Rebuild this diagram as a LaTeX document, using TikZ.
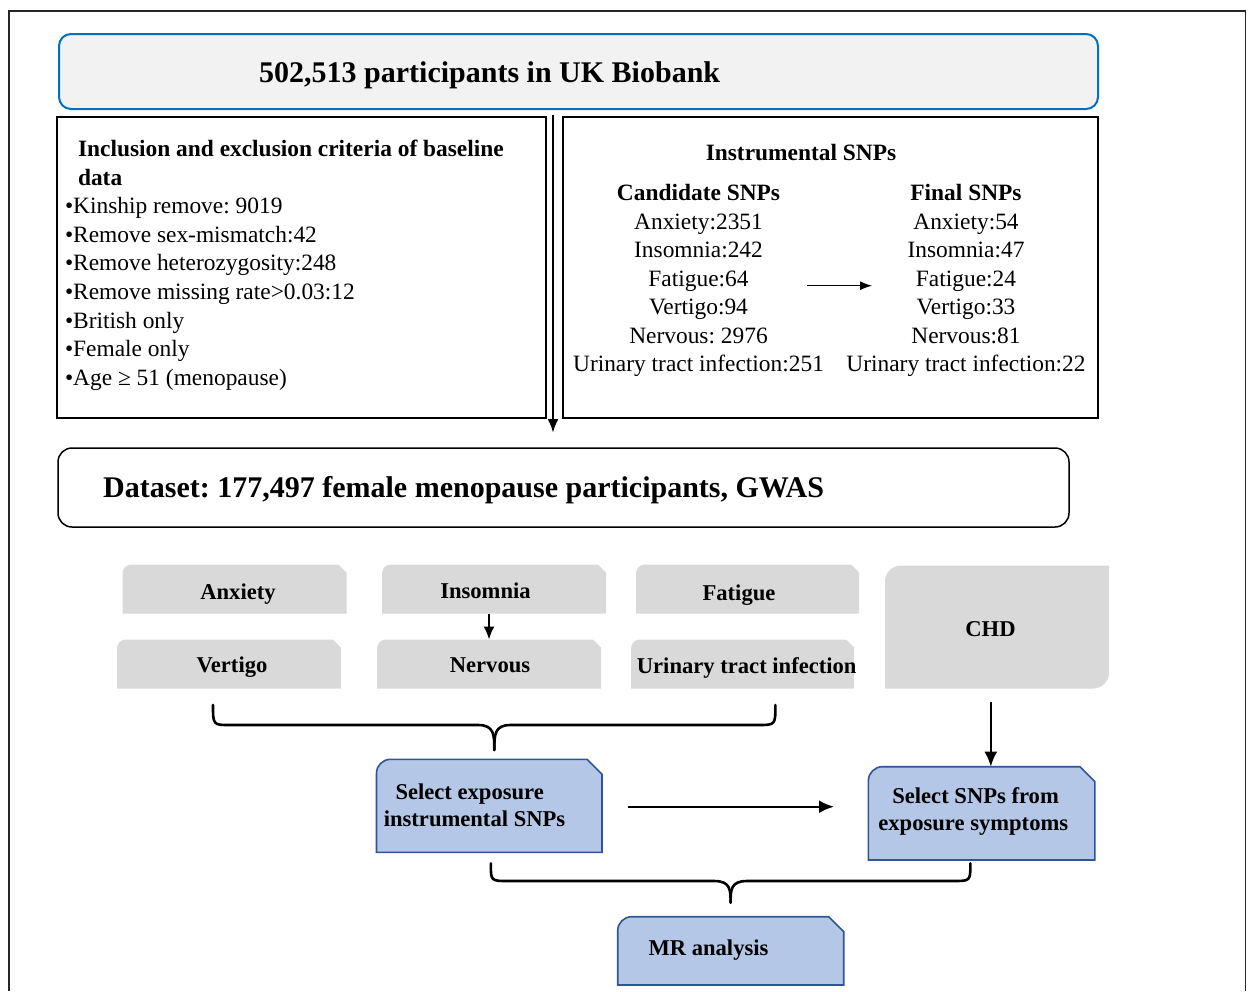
\documentclass[tikz,border=0pt]{standalone}
\usepackage{fontspec}
\setmainfont{Liberation Serif}
\frenchspacing
\usetikzlibrary{arrows.meta,backgrounds}
\definecolor{topblue}{RGB}{0,112,192}
\definecolor{topfill}{RGB}{242,242,242}
\definecolor{grayfill}{RGB}{217,217,217}
\definecolor{bluefill}{RGB}{180,199,231}
\definecolor{bluedraw}{RGB}{47,85,151}
\newcommand{\bodyfont}{\fontsize{23.4}{28.5}\selectfont}
\newcommand{\labfont}{\bfseries\fontsize{22.6}{27.5}\selectfont}
\newcommand{\bigfont}{\bfseries\fontsize{30}{34}\selectfont}
% snipped box: #1 node name, #2 style, #3 top-left radius, #4 chamfer
\newcommand{\snipbox}[4]{%
  \path[#2] (#1.south west) -- ([yshift=-#3]#1.north west)
    arc[start angle=180,end angle=90,radius=#3]
    -- ([xshift=-#4]#1.north east) -- ([yshift=-#4]#1.north east)
    -- (#1.south east) -- cycle;}
\tikzset{
  area/.style={inner sep=0pt, outer sep=0pt, minimum width=#1},
  plainbox/.style={draw=black, line width=1.8pt, inner sep=0pt},
  txt/.style={inner sep=0pt, outer sep=0pt, anchor=base, font=\bodyfont},
  txtl/.style={inner sep=0pt, outer sep=0pt, anchor=base west, font=\bodyfont},
  lab/.style={inner sep=0pt, outer sep=0pt, anchor=base, font=\labfont},
  labl/.style={inner sep=0pt, outer sep=0pt, anchor=base west, font=\labfont},
  grayshape/.style={fill=grayfill},
  blueshape/.style={fill=bluefill, draw=bluedraw, line width=1.6pt},
  thinarr/.style={-{Latex[length=12pt,width=9pt]}, line width=1pt},
  bigarr/.style={-{Latex[length=15pt,width=13pt]}, line width=2.4pt},
  brace/.style={line width=2.6pt, line cap=round},
}
\begin{document}
\begin{tikzpicture}[x=1pt,y=1pt]
\useasboundingbox (0,0) rectangle (1249,-991);
% outer frame
\draw[line width=1.8pt, black!85] (9,-991) -- (9,-11) -- (1245.5,-11) -- (1245.5,-991);

% top box
\node[draw=topblue, fill=topfill, line width=2pt, rounded corners=12pt,
      minimum width=1039pt, minimum height=75pt, inner sep=0pt] (top) at (578.5,-71.5) {};
\node[inner sep=0pt, anchor=base west, font=\bigfont] (toptxt) at (259,-82) {502,513 participants in UK Biobank};

% left criteria box
\node[plainbox, minimum width=489pt, minimum height=301pt] (crit) at (301.5,-267.5) {};
\node[labl, font=\bfseries\bodyfont] (h1) at (78,-156.5) {Inclusion and exclusion criteria of baseline};
\node[labl, font=\bfseries\bodyfont] (h2) at (78,-185.1) {data};
\node[txtl] (b1) at (65,-213.7) {•Kinship remove: 9019};
\node[txtl] (b2) at (65,-242.3) {•Remove sex-mismatch:42};
\node[txtl] (b3) at (65,-270.9) {•Remove heterozygosity:248};
\node[txtl] (b4) at (65,-299.5) {•Remove missing rate>0.03:12};
\node[txtl] (b5) at (65,-328.1) {•British only};
\node[txtl] (b6) at (65,-356.7) {•Female only};
\node[txtl] (b7) at (65,-385.3) {•Age ≥ 51 (menopause)};

% right SNP box
\node[plainbox, minimum width=535pt, minimum height=301pt] (snp) at (830.5,-267.5) {};
\node[lab, font=\bfseries\bodyfont] (isnp) at (801,-160) {Instrumental SNPs};
\node[lab, font=\bfseries\bodyfont] (cand) at (698.5,-200.7) {Candidate SNPs};
\node[lab, font=\bfseries\bodyfont] (fin) at (966,-200.7) {Final SNPs};
\node[txt] (c1) at (698.5,-229.2) {Anxiety:2351};
\node[txt] (c2) at (698.5,-257.7) {Insomnia:242};
\node[txt] (c3) at (698.5,-286.2) {Fatigue:64};
\node[txt] (c4) at (698.5,-314.7) {Vertigo:94};
\node[txt] (c5) at (698.5,-343.2) {Nervous: 2976};
\node[txt] (c6) at (698.5,-371.7) {Urinary tract infection:251};
\node[txt] (f1) at (966,-229.2) {Anxiety:54};
\node[txt] (f2) at (966,-257.7) {Insomnia:47};
\node[txt] (f3) at (966,-286.2) {Fatigue:24};
\node[txt] (f4) at (966,-314.7) {Vertigo:33};
\node[txt] (f5) at (966,-343.2) {Nervous:81};
\node[txt] (f6) at (966,-371.7) {Urinary tract infection:22};
\coordinate (sa) at (807,-285.7);
\coordinate (sb) at (872,-285.7);
\draw[thinarr] (sa) -- (sb);

% dataset box
\node[draw=black, line width=1.5pt, rounded corners=14pt,
      minimum width=1011pt, minimum height=79pt, inner sep=0pt] (data) at (563.5,-487.5) {};
\node[inner sep=0pt, anchor=base west, font=\bigfont] (datatxt) at (103,-497.5) {Dataset: 177,497 female menopause participants, GWAS};

% main down arrow
\coordinate (dtip) at (553,-433);
\draw[line width=2.6pt, -{Latex[length=14pt,width=11pt]}, shorten <=5pt] (top.south -| dtip) -- (dtip);

% gray symptom boxes
\node[area=224pt, minimum height=49pt] (anx) at (234.5,-589) {};
\node[area=224pt, minimum height=49pt] (ins) at (494,-589) {};
\node[area=223pt, minimum height=49pt] (fat) at (747.5,-589) {};
\node[area=224pt, minimum height=49pt] (ver) at (229,-664) {};
\node[area=224pt, minimum height=49pt] (ner) at (489,-664) {};
\node[area=223pt, minimum height=49pt] (uti) at (742.5,-664) {};
\node[area=224pt, minimum height=123pt] (chd) at (997,-627) {};
\begin{scope}[on background layer]
  \snipbox{anx}{grayshape}{9pt}{8pt}
  \snipbox{ins}{grayshape}{9pt}{8pt}
  \snipbox{fat}{grayshape}{9pt}{8pt}
  \snipbox{ver}{grayshape}{9pt}{8pt}
  \snipbox{ner}{grayshape}{9pt}{8pt}
  \snipbox{uti}{grayshape}{9pt}{8pt}
  \path[grayshape] (chd.south west) -- ([yshift=-16pt]chd.north west)
     arc[start angle=180,end angle=90,radius=16pt] -- (chd.north east)
     -- ([yshift=16pt]chd.south east) arc[start angle=0,end angle=-90,radius=16pt]
     -- cycle;
\end{scope}
\node[lab] (anxt) at (238,-599.5) {Anxiety};
\node[lab] (inst) at (485.5,-598) {Insomnia};
\node[lab] (fatt) at (739,-600) {Fatigue};
\node[lab] (vert) at (232,-672.7) {Vertigo};
\node[lab] (nert) at (490,-672.7) {Nervous};
\node[lab] (utit) at (746.7,-673) {Urinary tract infection};
\node[lab] (chdt) at (990.5,-636) {CHD};
\draw[line width=2pt, -{Latex[length=13pt,width=11pt]}] (ins.south -| ner.north) -- (ner.north);

% blue boxes
\node[area=225.5pt, minimum height=93pt] (sel1) at (376.5,-759.3) [anchor=north west] {};
\node[area=226.5pt, minimum height=93.3pt] (sel2) at (868.4,-766.7) [anchor=north west] {};
\node[area=226pt, minimum height=68.3pt] (mr) at (617.7,-916.7) [anchor=north west] {};
\begin{scope}[on background layer]
  \snipbox{sel1}{blueshape}{14pt}{15pt}
  \snipbox{sel2}{blueshape}{14pt}{15pt}
  \snipbox{mr}{blueshape}{14pt}{15pt}
\end{scope}
\node[labl] (s1a) at (395.5,-799.3) {Select exposure};
\node[labl] (s1b) at (383.8,-826.7) {instrumental SNPs};
\node[labl] (s2a) at (892.3,-803.3) {Select SNPs from};
\node[labl] (s2b) at (878.4,-830.5) {exposure symptoms};
\node[labl] (mrt) at (648.5,-955) {MR analysis};

% arrows between blue boxes
\coordinate (ha) at (627.6,-806.7);
\coordinate (hb) at (834,-806.7);
\draw[bigarr] (ha) -- (hb);
\coordinate (ca) at (990.8,-701.7);
\draw[bigarr] (ca) -- (ca |- sel2.north);

% brace 1
\coordinate (b1l) at (213,-705);
\coordinate (b1r) at (775.4,-705);
\coordinate (b1c) at (494.3,-750);
\draw[brace] (b1l) .. controls (213,-725) .. (230,-725) -- (478,-725)
   .. controls (494.3,-725) and (494.3,-735) .. (b1c);
\draw[brace] (b1r) .. controls (775.4,-725) .. (758,-725) -- (510.6,-725)
   .. controls (494.3,-725) and (494.3,-735) .. (b1c);
% brace 2
\coordinate (b2l) at (490.8,-863.3);
\coordinate (b2r) at (970.4,-863.3);
\coordinate (b2c) at (730.6,-902.7);
\draw[brace] (b2l) .. controls (490.8,-881) .. (508,-881) -- (714,-881)
   .. controls (730.6,-881) and (730.6,-890) .. (b2c);
\draw[brace] (b2r) .. controls (970.4,-881) .. (953,-881) -- (747,-881)
   .. controls (730.6,-881) and (730.6,-890) .. (b2c);
\end{tikzpicture}
\end{document}
